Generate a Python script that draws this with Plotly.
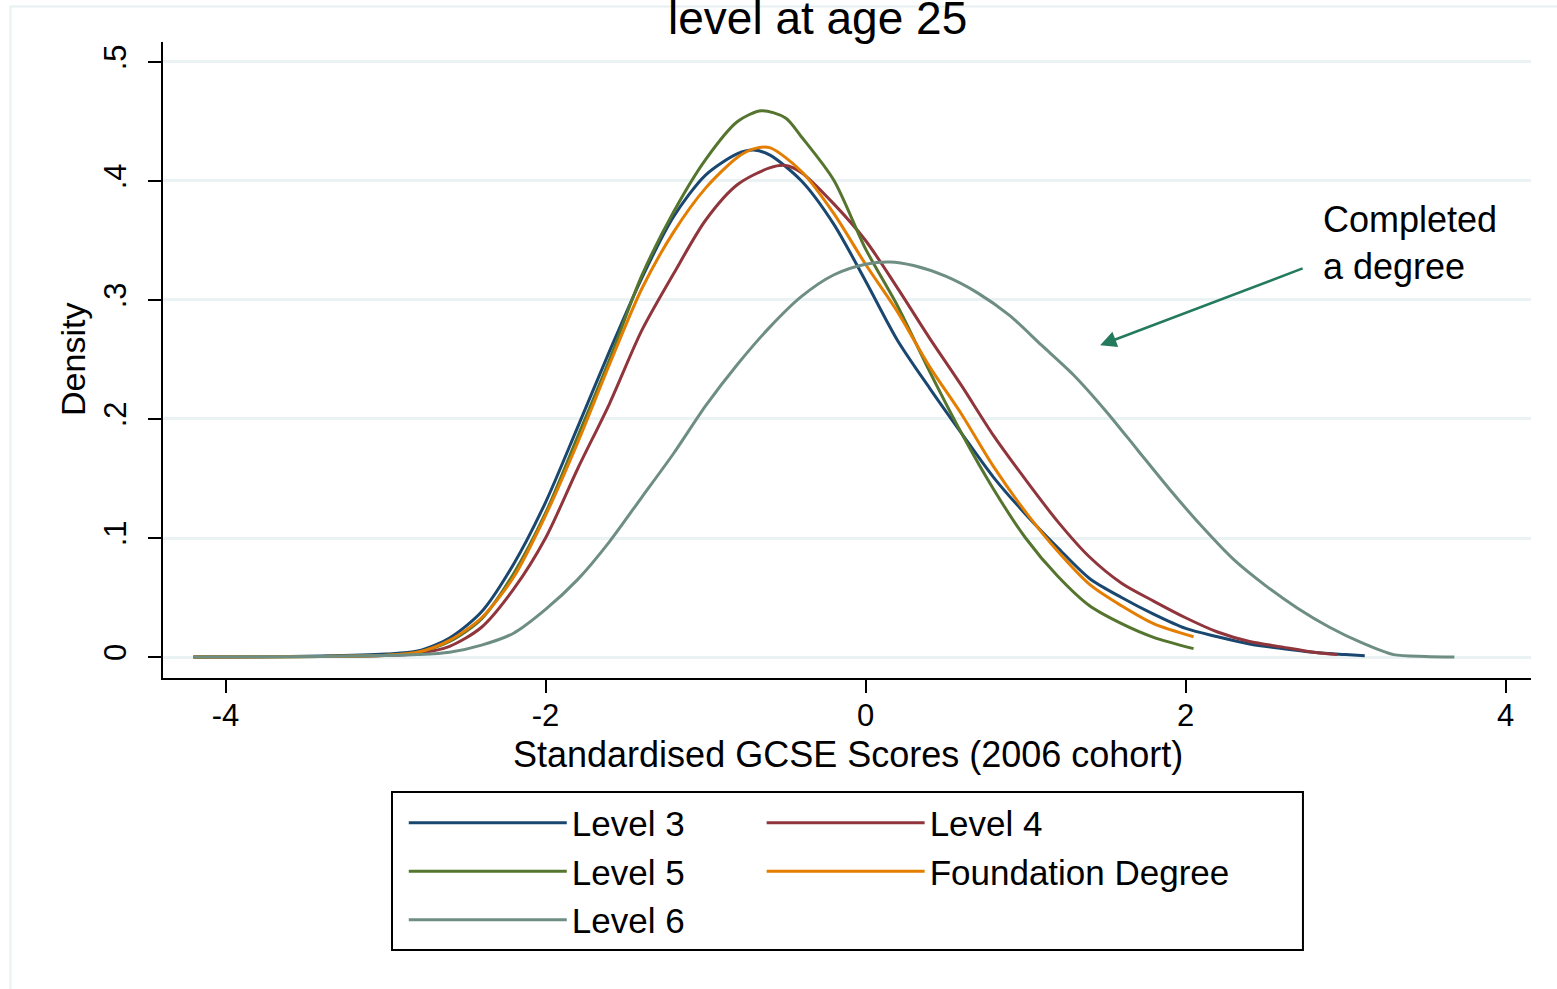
import plotly.graph_objects as go

# Kernel density estimates of standardised GCSE scores by highest qualification level at 25
x_l3 = [-4.2, -3.8, -3.4, -3.0, -2.8, -2.6, -2.4, -2.2, -2.0, -1.8, -1.6, -1.4, -1.2, -1.0, -0.8, -0.7,
        -0.6, -0.4, -0.2, 0.0, 0.2, 0.4, 0.6, 0.8, 1.0, 1.2, 1.4, 1.6, 1.8, 2.0, 2.2, 2.4, 2.6, 2.8, 3.0, 3.12]
y_l3 = [0, 0.0003, 0.0008, 0.0025, 0.005, 0.016, 0.038, 0.078, 0.130, 0.193, 0.257, 0.318, 0.370, 0.405,
        0.423, 0.426, 0.422, 0.400, 0.364, 0.316, 0.266, 0.226, 0.188, 0.151, 0.120, 0.092, 0.066, 0.050,
        0.036, 0.024, 0.017, 0.011, 0.0072, 0.004, 0.002, 0.001]

x_l4 = [-4.2, -3.8, -3.4, -3.0, -2.8, -2.6, -2.4, -2.2, -2.0, -1.8, -1.6, -1.4, -1.2, -1.0, -0.8, -0.6,
        -0.5, -0.4, -0.2, 0.0, 0.2, 0.4, 0.6, 0.8, 1.0, 1.2, 1.4, 1.6, 1.8, 2.0, 2.2, 2.4, 2.6, 2.8, 2.95]
y_l4 = [0, 0.0002, 0.0005, 0.0012, 0.003, 0.009, 0.025, 0.057, 0.100, 0.158, 0.213, 0.274, 0.322, 0.367,
        0.397, 0.411, 0.413, 0.407, 0.381, 0.350, 0.310, 0.268, 0.228, 0.186, 0.149, 0.114, 0.084, 0.062,
        0.047, 0.033, 0.021, 0.013, 0.0085, 0.004, 0.002]

x_l5 = [-4.2, -3.8, -3.4, -3.0, -2.8, -2.6, -2.4, -2.2, -2.0, -1.8, -1.6, -1.4, -1.2, -1.0, -0.8, -0.65,
        -0.5, -0.4, -0.2, 0.0, 0.2, 0.4, 0.6, 0.8, 1.0, 1.2, 1.4, 1.6, 1.8, 2.05]
y_l5 = [0, 0.0002, 0.0005, 0.0015, 0.004, 0.013, 0.032, 0.070, 0.121, 0.185, 0.250, 0.320, 0.374, 0.418,
        0.450, 0.459, 0.453, 0.437, 0.401, 0.343, 0.295, 0.240, 0.188, 0.141, 0.100, 0.068, 0.043, 0.028,
        0.0165, 0.007]

x_fd = [-4.2, -3.8, -3.4, -3.0, -2.8, -2.6, -2.4, -2.2, -2.0, -1.8, -1.6, -1.4, -1.2, -1.0, -0.8, -0.7,
        -0.6, -0.4, -0.2, 0.0, 0.2, 0.4, 0.6, 0.8, 1.0, 1.2, 1.4, 1.6, 1.8, 2.05]
y_fd = [0, 0.0002, 0.0005, 0.0015, 0.004, 0.014, 0.033, 0.067, 0.119, 0.180, 0.246, 0.309, 0.357, 0.394,
        0.420, 0.427, 0.428, 0.408, 0.373, 0.330, 0.290, 0.244, 0.204, 0.160, 0.122, 0.089, 0.061, 0.043,
        0.028, 0.017]

x_l6 = [-4.2, -3.6, -3.2, -3.0, -2.8, -2.6, -2.4, -2.2, -2.0, -1.8, -1.6, -1.4, -1.2, -1.0, -0.8, -0.6,
        -0.4, -0.2, 0.0, 0.15, 0.3, 0.5, 0.7, 0.9, 1.1, 1.3, 1.5, 1.7, 1.9, 2.1, 2.3, 2.5, 2.7, 2.9, 3.1,
        3.3, 3.5, 3.68]
y_l6 = [0, 0.0003, 0.0008, 0.0012, 0.002, 0.004, 0.010, 0.020, 0.040, 0.065, 0.097, 0.134, 0.171, 0.211,
        0.246, 0.277, 0.303, 0.321, 0.330, 0.332, 0.329, 0.320, 0.306, 0.287, 0.262, 0.237, 0.207, 0.174,
        0.141, 0.110, 0.082, 0.060, 0.041, 0.025, 0.012, 0.002, 0.0005, 0.0]

x_ticks = [-4, -2, 0, 2, 4]
x_tick_text = ["-4", "-2", "0", "2", "4"]
y_ticks = [0, 0.1, 0.2, 0.3, 0.4, 0.5]
y_tick_text = ["0", ".1", ".2", ".3", ".4", ".5"]

FONT = "Liberation Sans, Arial, Helvetica, sans-serif"

series = [
    ("Level 3", x_l3, y_l3, "#1a476f", "legend"),
    ("Level 4", x_l4, y_l4, "#90353b", "legend2"),
    ("Level 5", x_l5, y_l5, "#55752f", "legend"),
    ("Foundation Degree", x_fd, y_fd, "#e37e00", "legend2"),
    ("Level 6", x_l6, y_l6, "#6e8e84", "legend"),
]

fig = go.Figure()
for name, xs, ys, color, leg in series:
    fig.add_trace(go.Scatter(
        x=xs, y=ys, mode="lines", name=name, legend=leg,
        line=dict(color=color, width=3, shape="spline", smoothing=0.8),
        hoverinfo="skip",
    ))

legend_common = dict(
    orientation="v", xanchor="left", yanchor="top",
    bgcolor="rgba(0,0,0,0)", borderwidth=0,
    font=dict(family=FONT, size=35, color="black"),
    itemwidth=158, tracegroupgap=0,
)

fig.update_layout(
    width=1557, height=989,
    margin=dict(l=163, r=26, t=42, b=311, autoexpand=False),
    paper_bgcolor="white", plot_bgcolor="white",
    font=dict(family=FONT, color="black"),
    showlegend=True,
    legend=dict(x=0.176, y=-0.1816, **legend_common),
    legend2=dict(x=0.4376, y=-0.1816, **legend_common),
    xaxis=dict(
        range=[-4.391, 4.159], showline=True, linecolor="black", linewidth=2,
        ticks="outside", ticklen=13, tickwidth=2, tickcolor="black",
        tickvals=x_ticks, ticktext=x_tick_text, ticklabelstandoff=-4,
        tickfont=dict(family=FONT, size=31, color="black"),
        showgrid=False, zeroline=False,
    ),
    yaxis=dict(
        range=[-0.01765, 0.5168], showline=True, linecolor="black", linewidth=2,
        ticks="outside", ticklen=13, tickwidth=2, tickcolor="black",
        tickvals=y_ticks, ticktext=y_tick_text, tickangle=-90, ticklabelstandoff=10,
        tickfont=dict(family=FONT, size=31, color="black"),
        showgrid=True, gridcolor="#eaf2f3", gridwidth=2.5, zeroline=False,
    ),
    shapes=[
        # light frame around the graph region
        dict(type="rect", xref="paper", yref="paper", x0=-0.1115, x1=1.2, y0=-0.7, y1=1.0558,
             line=dict(color="#e8f0f2", width=2), layer="below"),
        # legend frame
        dict(type="rect", xref="paper", yref="paper", x0=0.1674, x1=0.8333, y0=-0.4277, y1=-0.1792,
             line=dict(color="black", width=2), fillcolor="rgba(0,0,0,0)"),
    ],
    annotations=[
        dict(text="level at age 25", xref="paper", yref="paper", x=0.4788, y=1.0375,
             xanchor="center", yanchor="middle", showarrow=False,
             font=dict(family=FONT, size=46, color="black")),
        dict(text="Density", xref="paper", yref="paper", x=-0.0658, y=0.5016, textangle=-90,
             xanchor="center", yanchor="middle", showarrow=False,
             font=dict(family=FONT, size=34, color="black")),
        dict(text="Standardised GCSE Scores (2006 cohort)", xref="paper", yref="paper",
             x=0.5007, y=-0.1195, xanchor="center", yanchor="middle", showarrow=False,
             font=dict(family=FONT, size=36, color="black")),
        dict(text="Completed<br>a degree", xref="x", yref="y", x=2.847, y=0.348,
             xanchor="left", yanchor="middle", align="left", showarrow=False,
             font=dict(family=FONT, size=36, color="black")),
        dict(text="", xref="x", yref="y", x=1.466, y=0.262, axref="x", ayref="y", ax=2.741, ay=0.327,
             showarrow=True, arrowhead=2, arrowsize=1.3, arrowwidth=2.5, arrowcolor="#237a5c",
             standoff=0, startstandoff=0),
    ],
)

fig.write_html("out.html")
